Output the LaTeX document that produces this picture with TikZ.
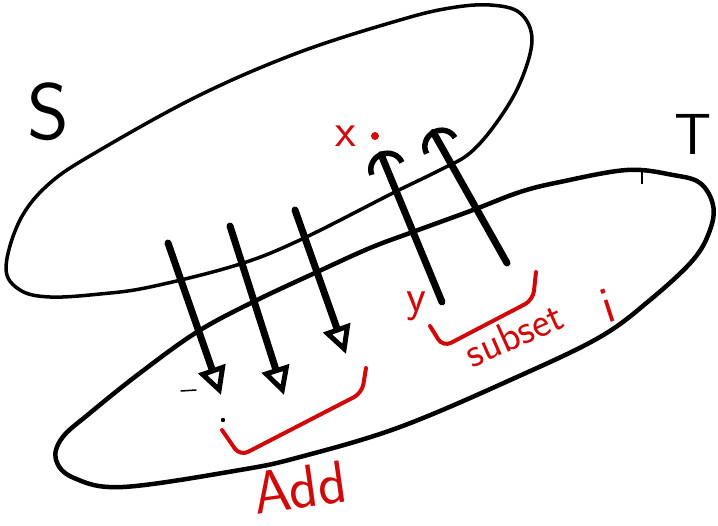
\documentclass[tikz,border=0pt]{standalone}
\usepackage{fontspec}
\usetikzlibrary{arrows.meta}
\definecolor{InkRed}{HTML}{D00A0A}
\definecolor{InkBlack}{HTML}{000000}

\begin{document}
\begin{tikzpicture}[x=1pt,y=-1pt,font=\sffamily,
  setline/.style={draw=InkBlack,line width=4.5pt,line cap=round,line join=round},
  downmap/.style={draw=InkBlack,line width=7pt,line cap=round,-{Triangle[open,length=28pt,width=28pt,line width=5pt]}},
  upmap/.style={draw=InkBlack,line width=7pt,line cap=round,-{Arc Barb[length=18pt,width=38pt,line width=5.5pt]}},
  brace/.style={draw=InkRed,line width=4pt,line cap=round,rounded corners=9pt},
  ink/.style={text=InkRed,inner sep=0pt}]
  \useasboundingbox (0,0) rectangle (718,526);
  % the two sets
  \draw[setline,line width=3.5pt] plot[smooth cycle,tension=0.6] coordinates {(6,268) (20,220) (50,183) (100,150) (200,95) (300,52)
    (400,20) (450,8) (490,5) (520,13) (532,40) (520,83) (497,122) (470,153) (440,170) (393,193) (300,240)
    (237,265) (150,287) (100,294) (50,297) (20,290)};
  \draw[setline] plot[smooth cycle,tension=0.6] coordinates {(90,413) (140,373) (197,332) (253,302)
    (317,272) (370,248) (410,233) (473,210) (520,192) (560,182) (627,170) (673,175) (700,183) (713,205)
    (710,230) (693,260) (650,300) (600,337) (517,377) (400,427) (300,457) (240,470) (123,487) (74,478) (56,460) (62,438)};
  \draw[InkBlack,line width=1.5pt] (642,172) -- (642,184);
  \node (S) at (48,112) {\fontsize{80}{80}\selectfont S};
  \node (T) at (693,134) {\fontsize{58}{58}\selectfont T};
  % arrows from S into T
  \coordinate (s1) at (168,243); \coordinate (t1) at (221,395);
  \coordinate (s2) at (230,226); \coordinate (t2) at (284,395);
  \coordinate (s3) at (295,210); \coordinate (t3) at (346,354);
  \draw[downmap] (s1) -- (t1);
  \draw[downmap] (s2) -- (t2);
  \draw[downmap] (s3) -- (t3);
  \draw[InkBlack,line width=1.5pt,line cap=round] (181,391) -- (196,390);
  \fill[InkBlack] (223,420) circle (2.2pt);
  % arrows from T back into S
  \coordinate (t4) at (442,302); \coordinate (s4) at (380,152);
  \coordinate (t5) at (507,263); \coordinate (s5) at (432,130);
  \draw[upmap] (t4) -- (s4);
  \draw[upmap] (t5) -- (s5);
  % red notes
  \node[ink] (x) at (346,136) {\fontsize{48}{48}\selectfont x};
  \fill[InkRed] (375,136) circle (4pt);
  \node[ink] (y) at (416,306) {\fontsize{46}{46}\selectfont y};
  \draw[brace] (222,430) -- (240,456) -- (362,393) -- (366,368);
  \draw[brace] (430,326) -- (443,347) -- (533,300) -- (536,272);
  \node[ink,rotate=8] (add) at (300,488) {\fontsize{60}{60}\selectfont Add};
  \node[ink,rotate=24] (subset) at (514,334) {\fontsize{42}{42}\selectfont subset};
  \node[ink,rotate=18] (i) at (608,306) {\fontsize{52}{52}\selectfont i};
\end{tikzpicture}
\end{document}
